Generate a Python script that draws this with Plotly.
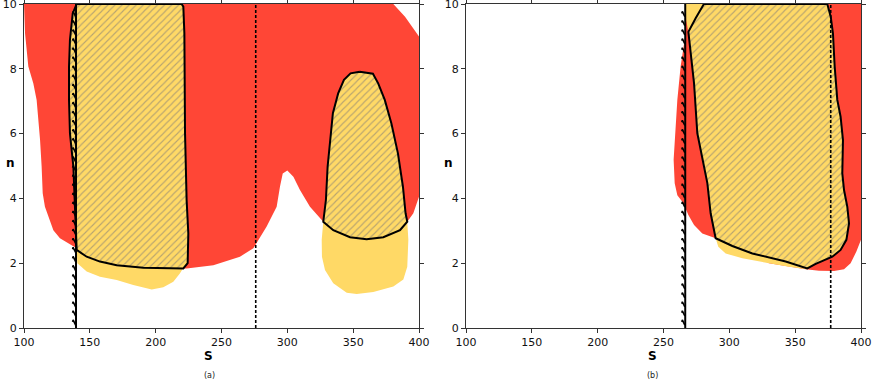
import plotly.graph_objects as go

# ---------------- data (S, n) ----------------
# Panel (a)
red_a_S = [100, 380.5, 389.4, 400, 400, 395.7, 391.1, 360.2, 327.3, 317.2, 309.6, 304.6, 300.0, 296.5,
           294.4, 291.9, 284.3, 274.2, 264.0, 243.8, 223.5, 195.7, 165.3, 140.0, 127.3, 122.3, 115.9,
           114.2, 113.4, 112.2, 109.6, 107.1, 103.3, 100.8]
red_a_n = [10, 10, 9.61, 9.0, 4.05, 3.54, 3.28, 3.02, 3.28, 3.74, 4.26, 4.67, 4.86, 4.77,
           4.36, 3.74, 3.13, 2.46, 2.20, 1.94, 1.84, 1.84, 1.94, 2.46, 2.77, 3.02, 3.74,
           4.16, 4.98, 5.80, 7.04, 7.55, 8.07, 9.09]

yel_a1_S = [140.0, 140.5, 147.6, 157.7, 170.4, 183.0, 197.0, 205.8, 213.4, 218.5, 221.5, 221.5, 140.0]
yel_a1_n = [2.46, 2.00, 1.74, 1.58, 1.48, 1.33, 1.19, 1.26, 1.43, 1.69, 1.89, 2.92, 2.92]

yel_a2_S = [327.3, 326.1, 326.3, 328.6, 334.9, 345.1, 352.7, 365.3, 380.5, 388.1, 391.1, 391.9, 391.1, 360.2]
yel_a2_n = [3.28, 2.72, 2.20, 1.79, 1.38, 1.09, 1.05, 1.11, 1.28, 1.50, 1.89, 2.72, 3.28, 2.93]

hat_a1_S = [140.0, 219.7, 221.0, 221.8, 222.3, 223.5, 224.8, 224.3, 221.0, 190.6, 170.4, 157.7, 147.6,
            140.0, 139.5, 138.7, 137.5, 136.2, 134.9, 134.2, 134.2, 134.9, 137.0, 140.0]
hat_a1_n = [10, 10, 9.92, 9.09, 6.01, 3.95, 2.92, 2.00, 1.84, 1.86, 1.94, 2.05, 2.20,
            2.41, 2.92, 3.95, 4.98, 5.49, 6.01, 7.04, 8.07, 8.89, 9.71, 10]

hat_a2_S = [355.0, 365.0, 369.0, 374.0, 379.0, 384.0, 387.8, 389.8, 391.1, 385.6, 372.9, 360.2, 347.6,
            334.9, 327.3, 329.3, 330.6, 332.4, 334.6, 338.6, 343.0, 348.0, 355.0]
hat_a2_n = [7.91, 7.85, 7.55, 7.04, 6.32, 5.39, 4.36, 3.54, 3.28, 3.02, 2.80, 2.74, 2.80,
            3.02, 3.28, 3.95, 4.98, 5.80, 6.63, 7.24, 7.66, 7.86, 7.91]

fence_a_S = 139.5
dash_a_S = 276.0

# Panel (b)
red_b_S = [266.8, 400, 400, 396.5, 392.1, 387.1, 379.5, 368.1, 358.0, 330.1, 289.6, 279.5, 273.2,
           268.9, 266.8, 264.3, 260.5, 258.5, 257.7, 258.7, 260.5, 263.0, 265.6, 266.8]
red_b_n = [10, 10, 2.72, 2.36, 2.00, 1.81, 1.76, 1.77, 1.81, 2.00, 2.77, 2.92, 3.18,
           3.49, 3.69, 3.90, 4.10, 4.47, 5.19, 6.01, 7.04, 8.07, 8.79, 9.09]

yel_b_S = [280.7, 266.8, 267.2, 268.9, 270.6, 273.2, 275.7, 279.5, 283.3, 285.8, 289.6, 291.6, 297.2,
           309.9, 330.1, 345.3, 359.2]
yel_b_n = [10, 10, 9.5, 9.14, 8.58, 7.55, 6.01, 5.29, 4.47, 3.54, 2.77, 2.51, 2.30,
           2.15, 2.00, 1.89, 1.81]

hat_b_S = [280.7, 374.4, 377.0, 378.7, 380.0, 382.0, 384.5, 386.3, 385.8, 387.1, 389.6, 390.9, 388.9,
           384.5, 378.2, 370.6, 365.6, 359.2, 342.8, 317.5, 302.3, 289.6, 285.8, 283.3, 279.5,
           275.7, 273.2, 270.6, 268.9, 274.4, 280.7]
hat_b_n = [10, 10, 9.61, 9.09, 8.07, 7.04, 6.52, 5.80, 4.77, 4.26, 3.74, 3.23, 2.72,
           2.41, 2.20, 2.08, 1.98, 1.84, 2.05, 2.30, 2.53, 2.77, 3.54, 4.47, 5.29,
           6.01, 7.55, 8.58, 9.14, 9.56, 10]

fence_b_S = 266.5
dash_b_S = 377.0

x_ticks = [100, 150, 200, 250, 300, 350, 400]
y_ticks = [0, 2, 4, 6, 8, 10]

# ---------------- style ----------------
RED = "#FF4636"
YEL = "#FFD966"
FONT = "DejaVu Sans"

fig = go.Figure()


def poly(S, n, color, xa, ya):
    fig.add_trace(go.Scatter(x=S, y=n, fill="toself", fillcolor=color, mode="lines",
                             line=dict(width=0, color=color), xaxis=xa, yaxis=ya,
                             hoverinfo="skip", showlegend=False))


def hatched(S, n, xa, ya):
    fig.add_trace(go.Scatter(x=S, y=n, fill="toself", fillcolor=YEL, mode="lines",
                             fillpattern=dict(shape="/", bgcolor=YEL, fgcolor="#6f6f7a",
                                              size=5, solidity=0.22),
                             line=dict(width=2, color="black"), xaxis=xa, yaxis=ya,
                             hoverinfo="skip", showlegend=False))


def fence(S0, xa, ya):
    fig.add_trace(go.Scatter(x=[S0, S0], y=[0, 10], mode="lines",
                             line=dict(color="black", width=2),
                             xaxis=xa, yaxis=ya, hoverinfo="skip", showlegend=False))
    xs, ys = [], []
    k = 0
    while True:
        n0 = 0.15 + 0.28 * k
        if n0 > 9.9:
            break
        xs += [S0 - 2.6, S0 - 2.2, S0 - 0.3, None]
        ys += [n0 + 0.04, n0 + 0.10, n0 - 0.06, None]
        k += 1
    fig.add_trace(go.Scatter(x=xs, y=ys, mode="lines", line=dict(color="black", width=1.6),
                             xaxis=xa, yaxis=ya, hoverinfo="skip", showlegend=False,
                             connectgaps=False))


def dashed(S0, xa, ya):
    fig.add_trace(go.Scatter(x=[S0, S0], y=[0, 10], mode="lines",
                             line=dict(color="black", width=1.6, dash="3px,2px"),
                             xaxis=xa, yaxis=ya, hoverinfo="skip", showlegend=False))


# Panel (a)
poly(red_a_S, red_a_n, RED, "x", "y")
poly(yel_a1_S, yel_a1_n, YEL, "x", "y")
poly(yel_a2_S, yel_a2_n, YEL, "x", "y")
hatched(hat_a1_S, hat_a1_n, "x", "y")
hatched(hat_a2_S, hat_a2_n, "x", "y")
dashed(dash_a_S, "x", "y")
fence(fence_a_S, "x", "y")

# Panel (b)
poly(red_b_S, red_b_n, RED, "x2", "y2")
poly(yel_b_S, yel_b_n, YEL, "x2", "y2")
hatched(hat_b_S, hat_b_n, "x2", "y2")
dashed(dash_b_S, "x2", "y2")
fence(fence_b_S, "x2", "y2")

W, H = 872, 382
ml, mr, mt, mb = 24, 11, 4, 54
pw = W - ml - mr
d1 = [0, 395 / pw]
d2 = [(466 - ml) / pw, 1.0]

ax_common = dict(range=[100, 400], tickvals=x_ticks, ticks="outside", ticklen=4, tickwidth=1,
                 tickcolor="#333", showline=True, linecolor="#333", linewidth=1, mirror="ticks",
                 showgrid=False, zeroline=False, automargin=False, ticklabeloverflow="allow",
                 tickfont=dict(family=FONT, size=11, color="#111"))
ay_common = dict(range=[0, 10], tickvals=y_ticks, ticks="outside", ticklen=4, tickwidth=1,
                 tickcolor="#333", showline=True, linecolor="#333", linewidth=1, mirror="ticks",
                 showgrid=False, zeroline=False, automargin=False, ticklabeloverflow="allow",
                 tickfont=dict(family=FONT, size=11, color="#111"))

fig.update_layout(
    width=W, height=H, margin=dict(l=ml, r=mr, t=mt, b=mb, autoexpand=False),
    paper_bgcolor="white", plot_bgcolor="white", showlegend=False,
    xaxis=dict(domain=d1, anchor="y", **ax_common),
    yaxis=dict(domain=[0, 1], anchor="x", **ay_common),
    xaxis2=dict(domain=d2, anchor="y2", **ax_common),
    yaxis2=dict(domain=[0, 1], anchor="x2", **ay_common),
    font=dict(family=FONT),
)

ann = [
    dict(text="<b>S</b>", x=208, y=356),
    dict(text="<b>S</b>", x=652, y=356),
    dict(text="<b>n</b>", x=10, y=163),
    dict(text="<b>n</b>", x=448, y=163),
]
for a in ann:
    fig.add_annotation(text=a["text"], xref="paper", yref="paper",
                       x=(a["x"] - ml) / pw, y=(H - mb - a["y"]) / (H - mt - mb),
                       showarrow=False, font=dict(family=FONT, size=12, color="black"),
                       xanchor="center", yanchor="middle")
for txt, px in [("(a)", 209), ("(b)", 652)]:
    fig.add_annotation(text=txt, xref="paper", yref="paper",
                       x=(px - ml) / pw, y=(H - mb - 375) / (H - mt - mb),
                       showarrow=False, font=dict(family=FONT, size=8, color="#222"),
                       xanchor="center", yanchor="middle")

fig.write_html("out.html", config={"displayModeBar": False},
               post_script="document.body.style.margin='0';document.body.style.overflow='hidden';")
